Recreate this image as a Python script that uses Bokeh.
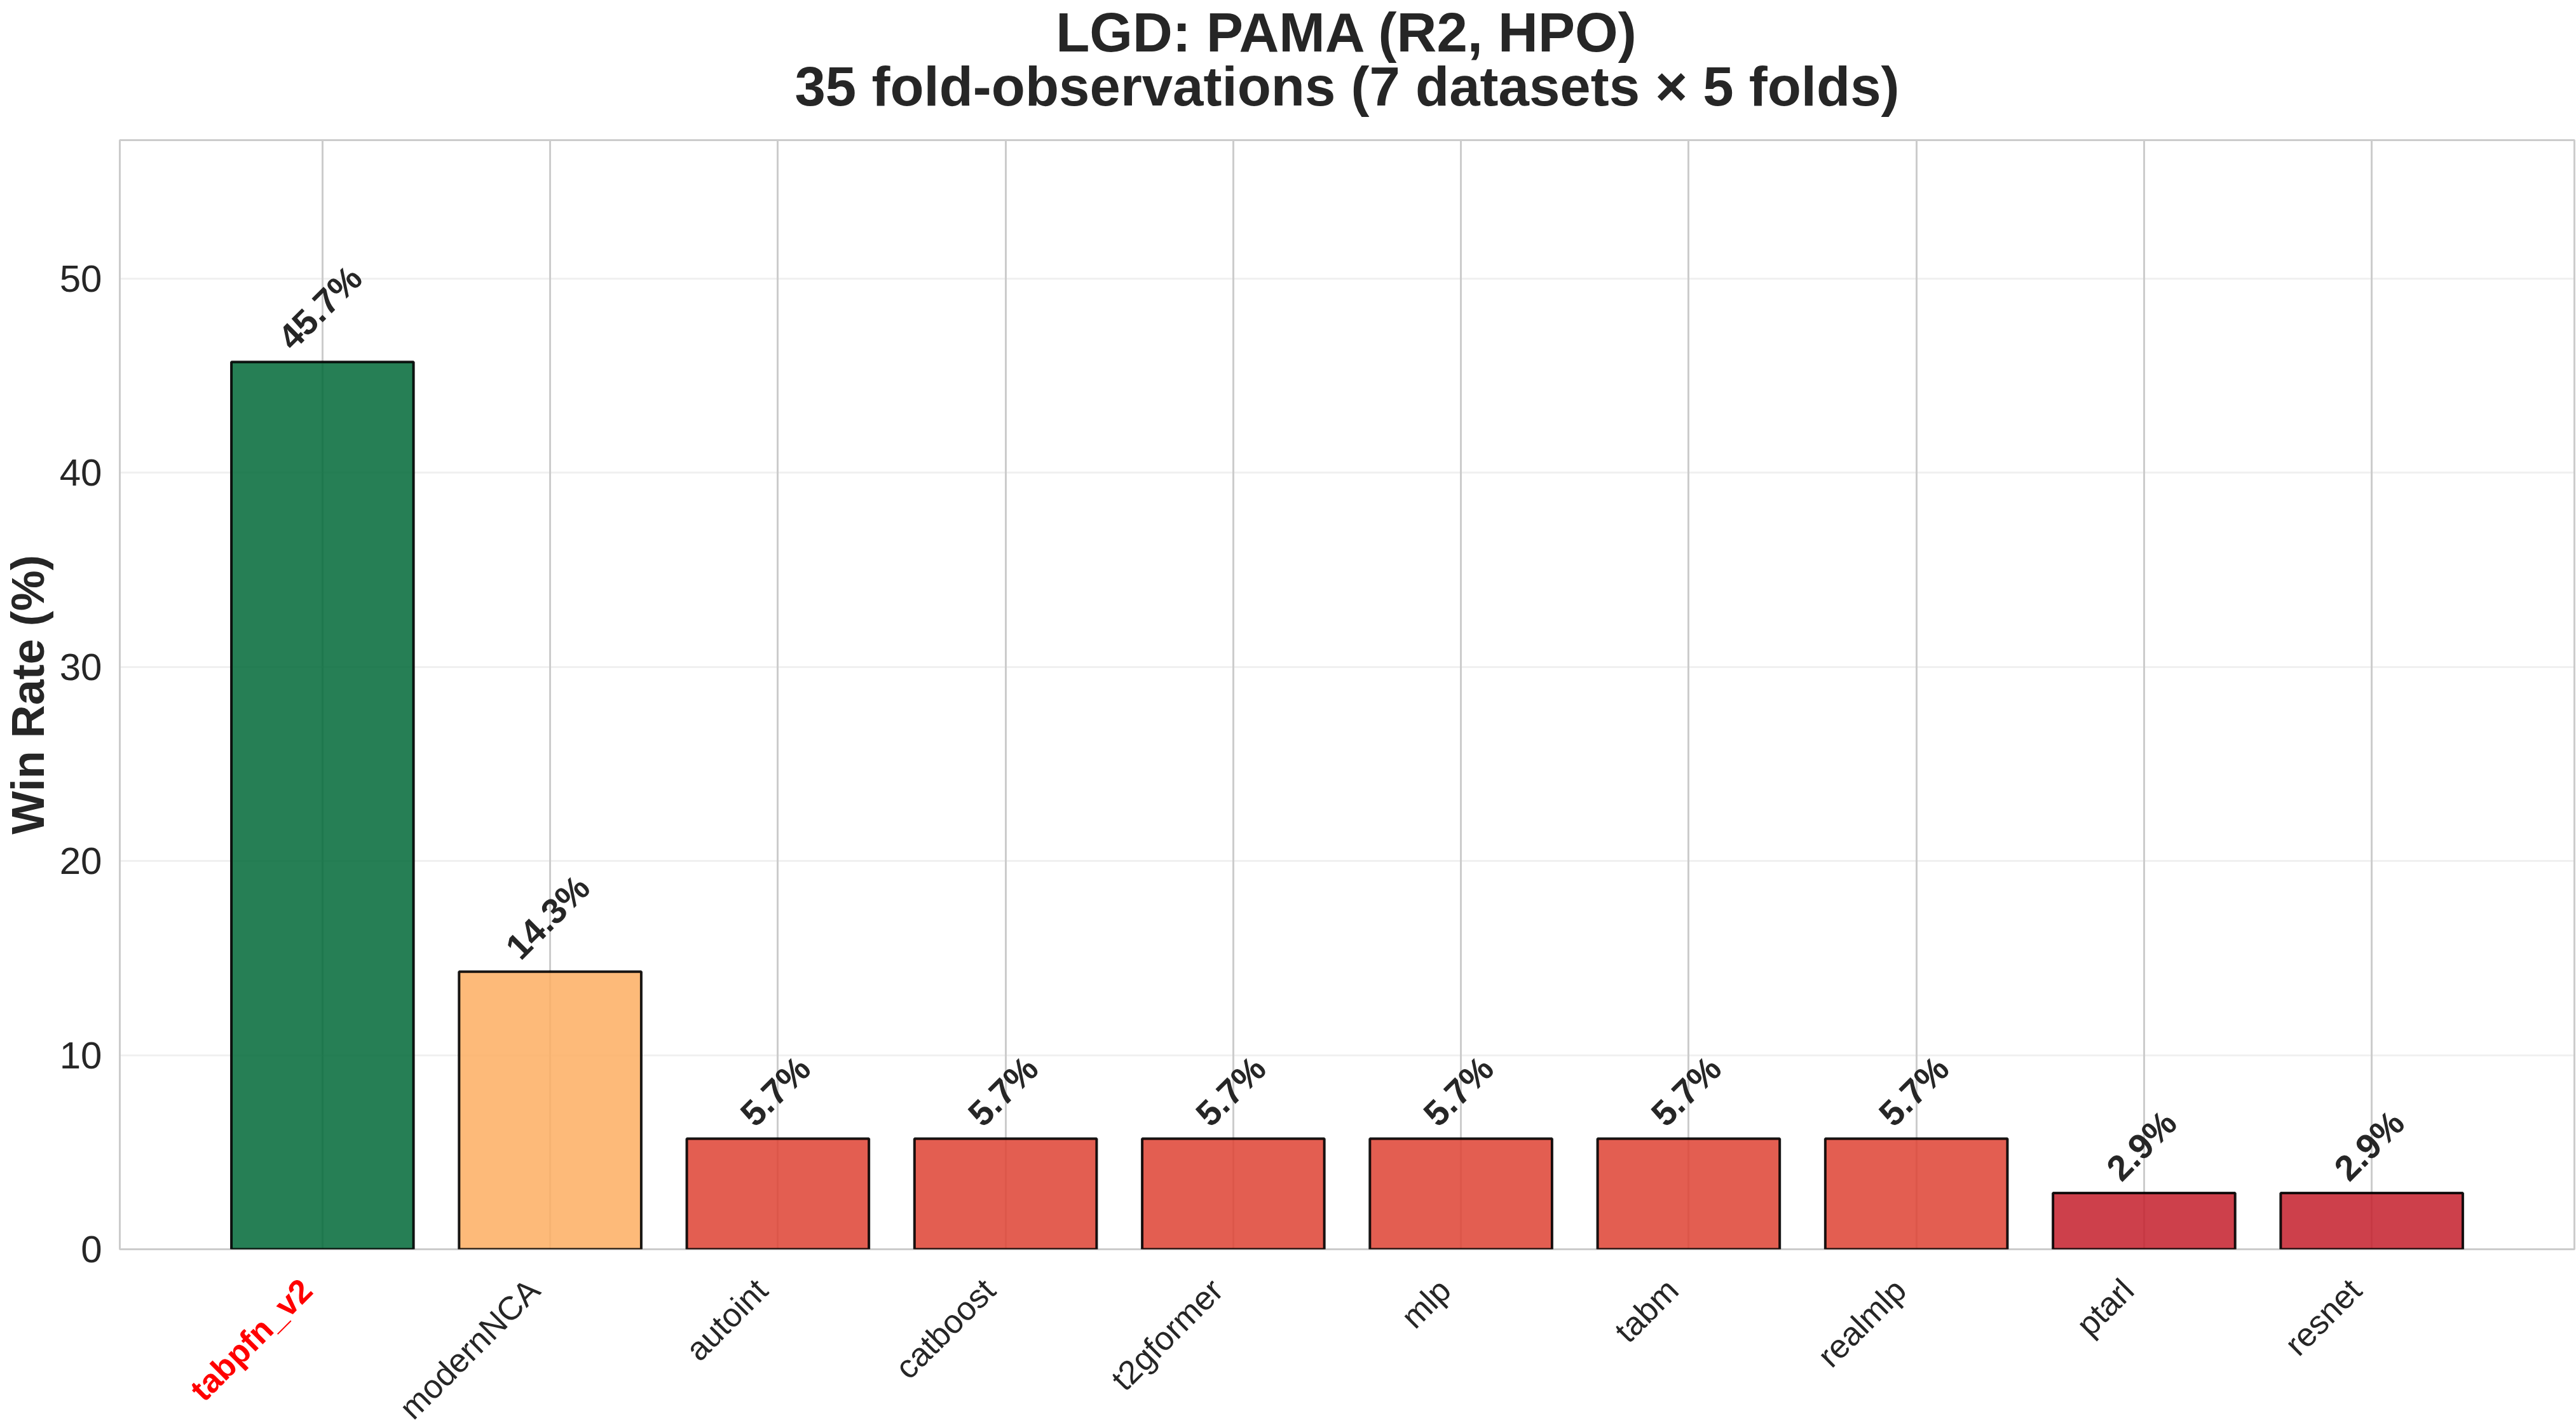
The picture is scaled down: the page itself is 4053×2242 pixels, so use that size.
from math import pi
from bokeh.plotting import figure
from bokeh.layouts import column
from bokeh.models import ColumnDataSource, LabelSet, Range1d, FixedTicker
from bokeh.core.properties import value
from bokeh.embed import file_html
from bokeh.resources import INLINE

# ---------------- data ----------------
categories = ["tabpfn_v2", "modernNCA", "autoint", "catboost", "t2gformer",
              "mlp", "tabm", "realmlp", "ptarl", "resnet"]
win_rate = [45.7, 14.3, 5.7, 5.7, 5.7, 5.7, 5.7, 5.7, 2.9, 2.9]
bar_colors = ["#006837", "#fdae61", "#de4232", "#de4232", "#de4232",
              "#de4232", "#de4232", "#de4232", "#c41f2b", "#c41f2b"]
tick_colors = ["#ff0000"] + ["#262626"] * 9
tick_styles = ["bold"] + ["normal"] * 9
y_ticks = [0, 10, 20, 30, 40, 50]
title_lines = ["LGD: PAMA (R2, HPO)",
               "35 fold-observations (7 datasets \u00d7 5 folds)"]
y_label = "Win Rate (%)"

# ---------------- layout constants ----------------
FONT = "Liberation Sans"
TXT = "#262626"
VAL_FS = 56
W = 4053
LEFT, RIGHT = 186, 3
HEAD_H = 218
BOTTOM_PAD = 34
MAIN_H = 1745 + 2 + BOTTOM_PAD
FOOT_H = 2242 - HEAD_H - MAIN_H

value_labels = [f"{v:.1f}%" for v in win_rate]


def bold_width(s, fs):
    w = {".": 0.278, "%": 0.889}
    return sum(w.get(c, 0.556) for c in s) * fs - 0.08 * fs


# screen offset so the rotated label's box sits just above its bar
val_offsets = [17 + 0.3536 * (bold_width(s, VAL_FS) + 0.716 * VAL_FS) for s in value_labels]

xs = list(range(len(categories)))
src = ColumnDataSource(dict(x=xs, top=win_rate, color=bar_colors, cat=categories,
                            lcolor=tick_colors, lstyle=tick_styles,
                            vlabel=value_labels, voff=val_offsets))

x_range = Range1d(-0.4 - 0.49, len(categories) - 1 + 0.4 + 0.49)
ymax = max(win_rate) * 1.25


def bare(fig):
    fig.xaxis.visible = False
    fig.yaxis.visible = False
    fig.xgrid.visible = False
    fig.ygrid.visible = False
    fig.outline_line_color = None
    fig.background_fill_color = "white"
    fig.border_fill_color = "white"


# ---------------- header (two title lines) ----------------
head = figure(width=W, height=HEAD_H, output_backend="svg", toolbar_location=None,
              x_range=x_range, y_range=Range1d(0, HEAD_H),
              min_border_left=LEFT, min_border_right=RIGHT, min_border_top=0,
              min_border_bottom=0)
bare(head)
cx = (x_range.start + x_range.end) / 2
head.text(x=[cx, cx], y=[HEAD_H - 50, HEAD_H - 135], text=title_lines,
          text_align="center", text_baseline="alphabetic",
          text_font=value(FONT), text_font_size="87px", text_font_style="bold",
          text_color=TXT)

# ---------------- main plot ----------------
p = figure(width=W, height=MAIN_H, output_backend="svg", toolbar_location=None,
           title=None, x_range=x_range, y_range=Range1d(0, ymax),
           min_border_left=LEFT, min_border_right=RIGHT, min_border_top=2,
           min_border_bottom=BOTTOM_PAD)
p.background_fill_color = "white"
p.border_fill_color = "white"
p.outline_line_color = "#cccccc"
p.outline_line_width = 3

p.xgrid.ticker = FixedTicker(ticks=xs)
p.xgrid.grid_line_color = "#cccccc"
p.xgrid.grid_line_width = 3
p.ygrid.ticker = FixedTicker(ticks=y_ticks)
p.ygrid.grid_line_color = "#cccccc"
p.ygrid.grid_line_alpha = 0.3
p.ygrid.grid_line_width = 3

p.xaxis.visible = False
ya = p.yaxis[0]
ya.ticker = FixedTicker(ticks=y_ticks)
ya.axis_line_color = None
ya.major_tick_line_color = None
ya.minor_tick_line_color = None
ya.major_tick_out = 0
ya.major_tick_in = 0
ya.major_label_standoff = 28
ya.major_label_text_font = FONT
ya.major_label_text_font_size = "60px"
ya.major_label_text_color = TXT
ya.axis_label = y_label
ya.axis_label_text_font = FONT
ya.axis_label_text_font_size = "72px"
ya.axis_label_text_font_style = "bold"
ya.axis_label_text_color = TXT
ya.axis_label_standoff = 7

p.vbar(x="x", top="top", width=0.8, source=src, fill_color="color", fill_alpha=0.85,
       line_color="black", line_alpha=0.9, line_width=4)

vl = LabelSet(x="x", y="top", text="vlabel", source=src, angle=pi / 4,
              text_align="center", text_baseline="middle", y_offset="voff",
              x_offset=-4,
              text_font=value(FONT), text_font_size=f"{VAL_FS}px",
              text_font_style="bold", text_color=TXT)
p.add_layout(vl)

# ---------------- footer (rotated category labels) ----------------
foot = figure(width=W, height=FOOT_H, output_backend="svg", toolbar_location=None,
              x_range=x_range, y_range=Range1d(0, FOOT_H),
              min_border_left=LEFT, min_border_right=RIGHT, min_border_top=0,
              min_border_bottom=0)
bare(foot)
foot.text(x="x", y=FOOT_H - 1, text="cat", source=src, angle=pi / 4,
          text_align="right", text_baseline="top", x_offset=-46,
          text_font=value(FONT), text_font_size="52px",
          text_font_style="lstyle", text_color="lcolor")

layout = column(head, p, foot, spacing=0)
open("out.html", "w").write(file_html(layout, INLINE))
